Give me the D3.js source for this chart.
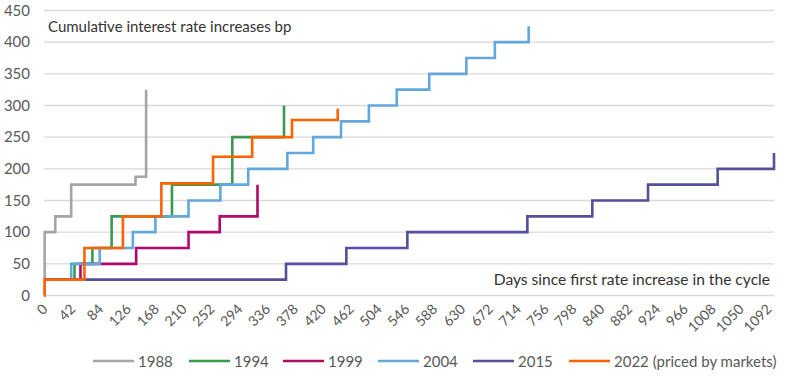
<!DOCTYPE html>
<html><head><meta charset="utf-8">
<script src="https://cdn.jsdelivr.net/npm/d3@7/dist/d3.min.js"></script>
<style>
body{margin:0;background:#fff;}
svg text{font-family:Lato,"Noto Sans",sans-serif;}
</style></head>
<body><svg id="c" width="800" height="377"></svg>
<script>
// Data: [day, cumulative bp]
const s1988 = [[0,0],[1,100],[17,125],[41,175],[138,187.5],[154,325]];
const s1994 = [[0,25],[46,50],[73,75],[102,125],[193,175],[284,250],[362,300]];
const s1999 = [[0,25],[55,50],[139,75],[218,100],[265,125],[322,175]];
const s2004 = [[0,25],[41,50],[84,75],[134,100],[168,125],[218,150],[266,175],[308,200],[367,225],[406,250],[448,275],[490,300],[532,325],[581,350],[637,375],[680,400],[731,425]];
const s2015 = [[0,25],[365,50],[456,75],[548,100],[729,125],[827,150],[911,175],[1016,200],[1101,225]];
const s2022 = [[0,0],[1,25],[61,75],[119,125],[177,177],[255,219],[314,250],[374,277],[443,295]];
const seriesNames = ["1988","1994","1999","2004","2015","2022 (priced by markets)"];
const seriesData = [s1988,s1994,s1999,s2004,s2015,s2022];
const colors = ["#a5a5a5","#3a9a52","#b0086b","#62a8dc","#525199","#ff6200"];
const yTicks = [0,50,100,150,200,250,300,350,400,450];
const xTicks = d3.range(0,1093,42);

const svg = d3.select("#c");
const x = d3.scaleLinear().domain([0,1101]).range([44,774]);
const y = d3.scaleLinear().domain([0,450]).range([295.5,10.5]);

// gridlines
svg.append("g").selectAll("line").data(yTicks).join("line")
  .attr("x1",44).attr("x2",774)
  .attr("y1",d=>y(d)).attr("y2",d=>y(d))
  .attr("stroke","#d9d9d9").attr("stroke-width",1.3);

// y axis labels
const yAxis = d3.axisLeft(y).tickValues(yTicks).tickSize(0).tickPadding(0);
const gy = svg.append("g").attr("transform","translate(30,0)").call(yAxis);
gy.select(".domain").remove();
gy.selectAll("text").attr("font-size",15).attr("fill","#595959")
  .style("font-family","Lato,'Noto Sans',sans-serif");

// x axis labels
const xAxis = d3.axisBottom(x).tickValues(xTicks).tickFormat(d3.format("d")).tickSize(0).tickPadding(0);
const gx = svg.append("g").attr("transform","translate(0,296)").call(xAxis);
gx.select(".domain").remove();
gx.selectAll("text").attr("font-size",14).attr("fill","#595959")
  .style("font-family","Lato,'Noto Sans',sans-serif")
  .attr("text-anchor","end").attr("dy",0)
  .attr("transform","translate(4,14) rotate(-45)");

// lines
const line = d3.line().x(d=>x(d[0])).y(d=>y(d[1])).curve(d3.curveStepAfter);
svg.append("g").selectAll("path").data(seriesData).join("path")
  .attr("d",line).attr("fill","none")
  .attr("stroke",(d,i)=>colors[i]).attr("stroke-width",2.6)
  .attr("stroke-linejoin","miter");

// annotations
svg.append("text").attr("x",48).attr("y",32).attr("font-size",15).attr("fill","#333")
  .text("Cumulative interest rate increases bp");
svg.append("text").attr("x",770).attr("y",285).attr("text-anchor","end")
  .attr("font-size",15.6).attr("fill","#333")
  .text("Days since first rate increase in the cycle");

// legend
const legX = [93,189,283,378,473,569];
const leg = svg.append("g").selectAll("g").data(seriesNames).join("g")
  .attr("transform",(d,i)=>`translate(${legX[i]},361)`);
leg.append("line").attr("x1",0).attr("x2",41).attr("y1",0).attr("y2",0)
  .attr("stroke",(d,i)=>colors[i]).attr("stroke-width",2.6);
leg.append("text").attr("x",45).attr("y",5.5).attr("font-size",15).attr("fill","#595959")
  .text(d=>d);
</script></body></html>
